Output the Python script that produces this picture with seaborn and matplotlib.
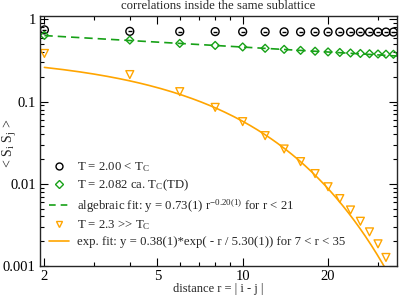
#! /usr/bin/env python
import numpy as np
import pandas as pd
import seaborn as sns
from matplotlib import pyplot as plt
from matplotlib.ticker import FixedLocator, NullFormatter, FuncFormatter
from matplotlib.lines import Line2D

# distances r = |i - j|
r_vals = [2, 4, 6, 8, 10, 12, 14, 16, 18, 20, 22, 24, 26, 28, 30, 32, 34]
# T = 2.00 < Tc
corr_low = [0.745, 0.715, 0.712, 0.71, 0.708, 0.706, 0.705, 0.704, 0.704,
            0.703, 0.703, 0.702, 0.702, 0.702, 0.701, 0.701, 0.701]
# T = 2.082 ca. Tc(TD)
corr_crit = [0.638, 0.56, 0.51, 0.482, 0.462, 0.445, 0.432, 0.42, 0.41,
             0.402, 0.396, 0.39, 0.385, 0.382, 0.379, 0.377, 0.376]
# T = 2.3 >> Tc
r_high = [2, 4, 6, 8, 10, 12, 14, 16, 18, 20, 22, 24, 26, 28, 30, 32]
corr_high = [0.385, 0.213, 0.132, 0.085, 0.057, 0.0385, 0.0265, 0.0186,
             0.0133, 0.0092, 0.0066, 0.0048, 0.0035, 0.0026, 0.00186, 0.00127]

# fit parameters as given in the legend
alg_a, alg_b = 0.73, -0.20
exp_a, exp_xi = 0.38, 5.30

GREEN = "#17a117"
ORANGE = "#ffa500"


def main() -> None:
    sns.set_style("ticks")
    plt.rcParams["font.family"] = ["Liberation Serif", "DejaVu Serif"]
    plt.rcParams["mathtext.fontset"] = "custom"
    plt.rcParams["mathtext.rm"] = "Liberation Serif"
    plt.rcParams["mathtext.it"] = "Liberation Serif:italic"
    plt.rcParams["axes.linewidth"] = 1.0

    fig = plt.figure(figsize=(3.99, 2.96), dpi=100)
    ax = fig.add_axes([0.1003, 0.1014, 0.8947, 0.8446])

    df_low = pd.DataFrame({"r": r_vals, "c": corr_low})
    df_crit = pd.DataFrame({"r": r_vals, "c": corr_crit})
    df_high = pd.DataFrame({"r": r_high, "c": corr_high})

    xs = np.linspace(2, 35, 200)
    df_alg = pd.DataFrame({"r": xs, "c": alg_a * xs ** alg_b})
    df_exp = pd.DataFrame({"r": xs, "c": exp_a * np.exp(-xs / exp_xi)})

    sns.lineplot(data=df_alg, x="r", y="c", ax=ax, color=GREEN, lw=1.2,
                 dashes=False, linestyle=(0, (5, 3)))
    sns.lineplot(data=df_exp, x="r", y="c", ax=ax, color=ORANGE, lw=1.2)

    sns.scatterplot(data=df_low, x="r", y="c", ax=ax, marker="o", s=32,
                    facecolors="none", edgecolor="black", linewidth=1.0)
    sns.scatterplot(data=df_low, x="r", y="c", ax=ax, marker="_", s=12,
                    color="black", linewidth=1.0)
    sns.scatterplot(data=df_crit, x="r", y="c", ax=ax, marker="D", s=16,
                    facecolors="none", edgecolor=GREEN, linewidth=1.0)
    sns.scatterplot(data=df_high, x="r", y="c", ax=ax, marker="v", s=32,
                    facecolors="none", edgecolor=ORANGE, linewidth=1.0)

    ax.set_xscale("log")
    ax.set_yscale("log")
    ax.set_xlim(1.93, 35)
    ax.set_ylim(0.001, 1.1)

    ax.xaxis.set_major_locator(FixedLocator([2, 5, 10, 20]))
    ax.xaxis.set_minor_locator(FixedLocator([3, 4, 6, 7, 8, 9, 30]))
    ax.xaxis.set_major_formatter(FuncFormatter(lambda v, p: f"{v:g}"))
    ax.xaxis.set_minor_formatter(NullFormatter())
    ax.yaxis.set_major_locator(FixedLocator([0.001, 0.01, 0.1, 1]))
    minors = [m * 10.0 ** e for e in (-3, -2, -1) for m in range(2, 10)]
    ax.yaxis.set_minor_locator(FixedLocator(minors))
    ax.yaxis.set_major_formatter(FuncFormatter(lambda v, p: f"{v:g}"))
    ax.yaxis.set_minor_formatter(NullFormatter())
    ax.tick_params(which="both", direction="in", top=True, right=True,
                   labelsize=10.5, width=0.8, colors="black")
    ax.tick_params(which="major", length=6, pad=3)
    ax.tick_params(which="minor", length=3)

    ax.set_xlabel("distance r = | i - j |", fontsize=9, labelpad=0)
    ax.set_ylabel(r"< S$_\mathrm{i}$ S$_\mathrm{j}$ >", fontsize=10)
    ax.yaxis.set_label_coords(-0.06, 0.49)
    ax.set_title("correlations inside the same sublattice", fontsize=9.2, pad=5)

    handles = [
        Line2D([], [], ls="none", marker="o", ms=5, mfc="none", mec="black", mew=1.0),
        Line2D([], [], ls="none", marker="D", ms=4, mfc="none", mec=GREEN, mew=1.0),
        Line2D([], [], color=GREEN, lw=1.2, ls=(0, (4, 3))),
        Line2D([], [], ls="none", marker="v", ms=5, mfc="none", mec=ORANGE, mew=1.0),
        Line2D([], [], color=ORANGE, lw=1.2),
    ]
    labels = [
        r"T = 2.00 < T$_\mathrm{C}$",
        r"T = 2.082 ca. T$_\mathrm{C}$(TD)",
        r"algebraic fit: y = 0.73(1) r$^{\mathrm{ - 0.20(1)}}$ for r < 21",
        r"T = 2.3 >> T$_\mathrm{C}$",
        r"exp. fit: y = 0.38(1)*exp( - r / 5.30(1)) for 7 < r < 35",
    ]
    ax.legend(handles, labels, loc="lower left", bbox_to_anchor=(0.0, 0.035),
              frameon=False, fontsize=9.2, handlelength=1.6, handletextpad=0.6,
              labelspacing=0.3, borderaxespad=0.3)

    plt.savefig("out.png", dpi=100)


if __name__ == "__main__":
    main()
